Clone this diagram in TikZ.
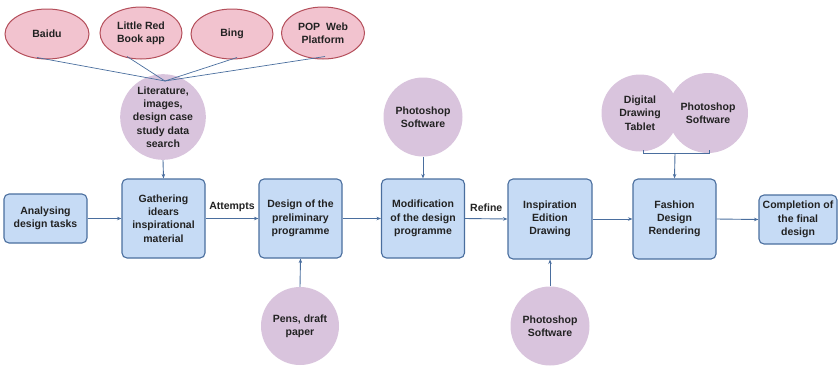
\documentclass[tikz,border=0pt]{standalone}
\usepackage{fontspec}
\setmainfont{Liberation Sans}
\usetikzlibrary{arrows.meta,shapes.geometric}
\definecolor{boxfill}{HTML}{C6DBF5}
\definecolor{boxline}{HTML}{4A6E9E}
\definecolor{circfill}{HTML}{D9C4DD}
\definecolor{ellfill}{HTML}{F2C3CF}
\definecolor{ellline}{HTML}{B44E5A}
\definecolor{txt}{HTML}{222222}
\definecolor{arr}{HTML}{4A6E9E}
\tikzset{
  box/.style={draw=boxline, line width=1.1pt, fill=boxfill, rounded corners=5pt, align=center, inner sep=0pt, text=txt, font=\fontsize{10.5}{13.3}\selectfont\bfseries},
  circ/.style={circle, fill=circfill, align=center, inner sep=0pt, text=txt, font=\fontsize{10.5}{13.3}\selectfont\bfseries},
  ell/.style={ellipse, draw=ellline, line width=1pt, fill=ellfill, align=center, inner sep=0pt, text=txt, font=\fontsize{10.5}{13.3}\selectfont\bfseries},
  conn/.style={draw=arr, line width=0.9pt, -{Stealth[length=4.5pt,width=3.5pt]}},
  plain/.style={draw=arr, line width=0.9pt},
  lbl/.style={text=txt, font=\fontsize{10.5}{13.3}\selectfont\bfseries}
}
\begin{document}
\begin{tikzpicture}[x=1pt,y=-1pt]
\useasboundingbox (0,0) rectangle (840,365);
% boxes
\node[box, minimum width=83pt, minimum height=49pt] (a) at (45.5,218.5) {Analysing\\design tasks};
\node[box, minimum width=83pt, minimum height=79pt] (g) at (163.5,218.5) {Gathering\\idears\\inspirational\\material};
\node[box, minimum width=83pt, minimum height=79pt] (d) at (300.5,218.5) {Design of the\\preliminary\\programme};
\node[box, minimum width=83pt, minimum height=79pt] (m) at (423,218.5) {Modification\\of the design\\programme};
\node[box, minimum width=84pt, minimum height=80pt] (i) at (550,219) {Inspiration\\Edition\\Drawing};
\node[box, minimum width=83pt, minimum height=80pt] (f) at (674.5,219) {Fashion\\Design\\Rendering};
\node[box, minimum width=78pt, minimum height=49pt] (c) at (798,219.5) {Completion of\\the final\\design};
% ellipses
\node[ell, minimum width=84pt, minimum height=50pt] (e1) at (47,34) {Baidu};
\node[ell, minimum width=82pt, minimum height=52pt] (e2) at (141,33) {Little Red\\Book app};
\node[ell, minimum width=82pt, minimum height=50pt] (e3) at (232,34) {Bing};
\node[ell, minimum width=83pt, minimum height=52pt] (e4) at (323,33) {POP~~Web\\Platform};
% circles
\node[circ, minimum size=78pt] (lit) at (163,117) {Literature,\\images,\\design case\\study data\\search};
\node[circ, minimum size=79pt] (ps1) at (423,117) {Photoshop\\Software};
\node[circ, minimum size=77pt] (dt) at (640,113) {Digital\\Drawing\\Tablet};
\node[circ, minimum size=80pt] (ps2) at (708,113) {Photoshop\\Software};
\node[circ, minimum size=78pt] (pen) at (300,326) {Pens, draft\\paper};
\node[circ, minimum size=79pt] (ps3) at (550,326) {Photoshop\\Software};
% lines from ellipses
\coordinate (hub) at (165,81);
\draw[plain, line width=0.7pt] (e1.south) ++(-10,-2) -- (hub);
\draw[plain, line width=0.7pt] (e2.south) ++(-14,-3) -- (hub);
\draw[plain, line width=0.7pt] (e3.south) ++(5,-2) -- (hub);
\draw[plain, line width=0.7pt] (e4.south) ++(2,-3) -- (hub);
% main flow
\draw[conn] (a.east) -- (g.west);
\draw[conn] (g.east) -- node[lbl, above=3pt] {Attempts} (d.west);
\draw[conn] (d.east) -- (m.west);
\draw[conn] (m.east) -- node[lbl, above=3pt] {Refine} (i.west);
\draw[conn] (i.east) -- (f.west);
\draw[conn] (f.east) -- (c.west);
% resources
\draw[conn] (lit.south) -- (g.north);
\draw[conn] (ps1.south) -- (m.north);
\draw[conn] (pen.north) -- (d.south);
\draw[conn] (ps3.north) -- (i.south);
\coordinate (br) at (675,153);
\draw[plain] (643,150) -- (643,153) -- (709,153) -- (709,150);
\draw[conn] (br) -- (f.north);
\end{tikzpicture}
\end{document}
